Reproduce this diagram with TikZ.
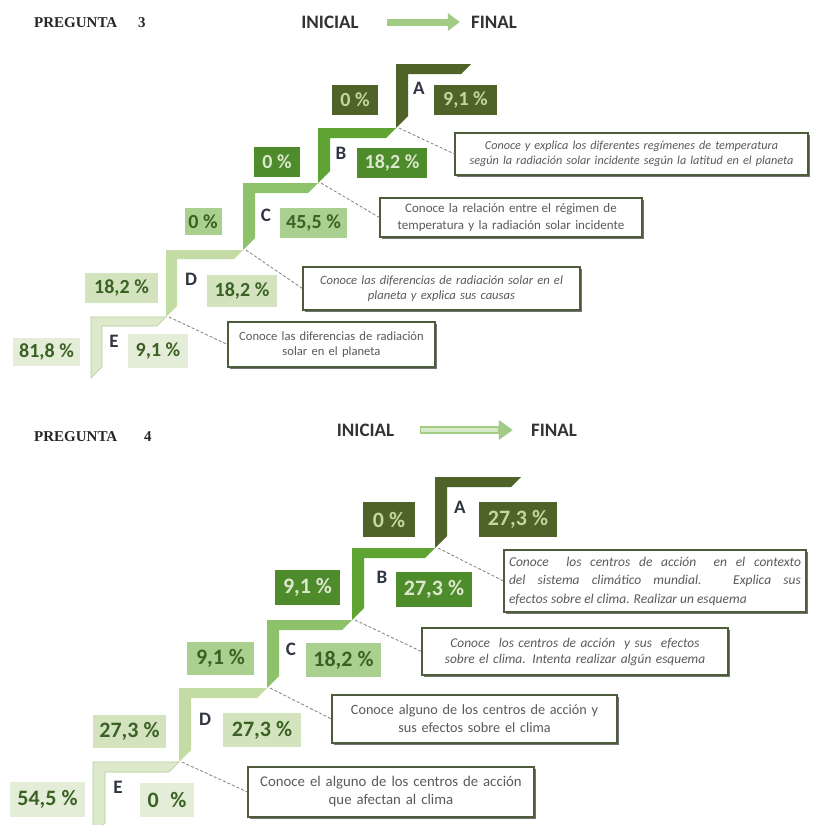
\documentclass[tikz,border=0pt]{standalone}
\usepackage{fontspec}
\setmainfont{Carlito}
\newfontfamily\serifb{Liberation Serif}
\usetikzlibrary{shadows,arrows.meta}
\definecolor{gA}{HTML}{4F6228}
\definecolor{gAt}{HTML}{C3D69B}
\definecolor{gBs}{HTML}{5FA332}
\definecolor{gB}{HTML}{4E8B2B}
\definecolor{gBt}{HTML}{DBE8CF}
\definecolor{gCs}{HTML}{8DC26A}
\definecolor{gC}{HTML}{A9D08E}
\definecolor{gDs}{HTML}{C3DCA3}
\definecolor{gD}{HTML}{D2E3BD}
\definecolor{gEs}{HTML}{DCEACB}
\definecolor{gEb}{HTML}{B3CE9B}
\definecolor{gE}{HTML}{E4EDD8}
\definecolor{gtxt}{HTML}{3B6125}
\definecolor{dtxt}{HTML}{5A5A5A}
\definecolor{dbord}{HTML}{4D5D3C}
\definecolor{arrowg}{HTML}{A2CC85}
\definecolor{arrowl}{HTML}{D6EAC8}
\definecolor{letc}{HTML}{2F3542}
% #1 style, #2 x0, #3 top y, #4 bar right x, #5 bottom y, #6 bar width, #7 bar height
\newcommand\stepshape[7]{%
  \path[#1] (#2,#5) -- (#2,#3) -- (#4,#3) -- (#4-#7,#3+#7) -- (#2+#6,#3+#7) -- (#2+#6,#5-#6) -- cycle;}
\begin{document}
\begin{tikzpicture}[x=1pt,y=-1pt,
  pct/.style={inner sep=0pt, font=\bfseries\fontsize{20}{20}\selectfont},
  pctb/.style={inner sep=0pt, font=\bfseries\fontsize{22}{22}\selectfont},
  lvA/.style={fill=gA, text=gAt},
  lvB/.style={fill=gB, text=gBt},
  lvC/.style={fill=gC, text=gtxt},
  lvD/.style={fill=gD, text=gtxt},
  lvE/.style={fill=gE, text=gtxt},
  letter/.style={inner sep=0pt, text=letc, font=\bfseries\fontsize{19}{19}\selectfont},
  head/.style={inner sep=0pt, text=black!80, font=\bfseries\fontsize{19}{19}\selectfont},
  preg/.style={inner sep=0pt, anchor=west, text=black!85, font=\serifb\bfseries\fontsize{15}{15}\selectfont},
  desc/.style={draw=dbord, line width=1.1pt, fill=white, text=dtxt, inner sep=2pt,
    drop shadow={shadow xshift=1.5pt, shadow yshift=-2pt, fill=black!55, opacity=1}},
  conn/.style={draw=black!50, line width=0.8pt, dash pattern=on 3pt off 2pt},
  stA/.style={fill=gA}, stB/.style={fill=gBs}, stC/.style={fill=gCs},
  stD/.style={fill=gDs}, stE/.style={fill=gEs, draw=gEb, line width=0.6pt},
]
\useasboundingbox (0,0) rectangle (812,825);
\fill[white] (0,0) rectangle (812,825);

% ================= PREGUNTA 3 =================
\node[preg] (p3) at (34,23) {PREGUNTA\hspace{1.4em}3};
\node[head] (ini3) at (330,22) {INICIAL};
\node[head] (fin3) at (494,22) {FINAL};
\draw[arrowg, line width=7pt, -{Triangle[length=12pt,width=17pt]}] ([xshift=28pt]ini3.east) -- ([xshift=-11pt]fin3.west);

% steps
\stepshape{stE}{91}{317}{166}{378}{11}{9}
\stepshape{stD}{166}{250}{243}{317}{11}{9}
\stepshape{stC}{243}{183}{318}{250}{12}{10}
\stepshape{stB}{318}{128}{396}{183}{12}{10}
\stepshape{stA}{396}{64}{471}{128}{12}{10}

\coordinate (jA3) at (399,128);
\coordinate (jB3) at (321,183);
\coordinate (jC3) at (246,250);
\coordinate (jD3) at (169,317);

% percent boxes
\node[pct,lvA,minimum width=46pt,minimum height=30pt] (a3l) at (355,100) {0 \%};
\node[pct,lvA,minimum width=63pt,minimum height=30pt] (a3r) at (465.5,100) {9,1 \%};
\node[letter] (la3) at (419,88) {A};
\node[pct,lvB,minimum width=46pt,minimum height=30pt] (b3l) at (277,162) {0 \%};
\node[pct,lvB,minimum width=70pt,minimum height=30pt] (b3r) at (392,163) {18,2 \%};
\node[letter] (lb3) at (341,153) {B};
\node[pct,lvC,minimum width=37pt,minimum height=27pt] (c3l) at (203,221.5) {0 \%};
\node[pct,lvC,minimum width=67pt,minimum height=30pt] (c3r) at (313.5,223) {45,5 \%};
\node[letter] (lc3) at (266,215) {C};
\node[pct,lvD,minimum width=73pt,minimum height=30pt] (d3l) at (121.5,288) {18,2 \%};
\node[pct,lvD,minimum width=70pt,minimum height=32pt] (d3r) at (242,291) {18,2 \%};
\node[letter] (ld3) at (191,279) {D};
\node[pct,lvE,minimum width=67pt,minimum height=28pt] (e3l) at (46.5,351.5) {81,8 \%};
\node[pct,lvE,minimum width=60pt,minimum height=34pt] (e3r) at (158,351) {9,1 \%};
\node[letter] (le3) at (114,341) {E};

% descriptions
\node[desc,minimum width=353pt,minimum height=42pt,text width=347pt,align=center,
  font=\itshape\fontsize{12.2}{15}\selectfont] (dA3) at (631.5,154)
  {Conoce y explica los diferentes regímenes de temperatura\\según la radiación solar incidente según la latitud en el planeta};
\node[desc,minimum width=262pt,minimum height=39pt,text width=254pt,align=center,
  font=\fontsize{13}{17}\selectfont] (dB3) at (511,217.5)
  {Conoce la relación entre el régimen de\\temperatura y la radiación solar incidente};
\node[desc,minimum width=277pt,minimum height=43pt,text width=269pt,align=center,
  font=\itshape\fontsize{12.6}{15}\selectfont] (dC3) at (441.5,288.5)
  {Conoce las diferencias de radiación solar en el\\planeta y explica sus causas};
\node[desc,minimum width=207pt,minimum height=45pt,text width=199pt,align=center,
  font=\fontsize{12.6}{15}\selectfont] (dD3) at (331.5,344.5)
  {Conoce las diferencias de radiación\\solar en el planeta};

\draw[conn] (jA3) -- (dA3.west);
\draw[conn] (jB3) -- (dB3.west);
\draw[conn] (jC3) -- (dC3.west);
\draw[conn] (jD3) -- (dD3.west);

% ================= PREGUNTA 4 =================
\node[preg] (p4) at (34,437) {PREGUNTA\hspace{1.8em}4};
\node[head] (ini4) at (365.5,430) {INICIAL};
\node[head] (fin4) at (554,430) {FINAL};
\draw[arrowg, line width=8pt, -{Triangle[length=14pt,width=19pt]}] ([xshift=26pt]ini4.east) -- ([xshift=-18pt]fin4.west);
\draw[arrowl, line width=3.5pt] ([xshift=27pt]ini4.east) -- ([xshift=-33pt]fin4.west);

\stepshape{stE}{93}{762}{179}{835}{12}{10}
\stepshape{stD}{179}{688}{267}{762}{12}{10}
\stepshape{stC}{267}{620}{352}{688}{12}{10}
\stepshape{stB}{352}{548}{435}{620}{12}{10}
\stepshape{stA}{435}{477}{521}{548}{12}{10}

\coordinate (jA4) at (438,548);
\coordinate (jB4) at (355,620);
\coordinate (jC4) at (270,688);
\coordinate (jD4) at (182,762);

\node[pctb,lvA,minimum width=52pt,minimum height=35pt] (a4l) at (389,519.5) {0 \%};
\node[pctb,lvA,minimum width=78pt,minimum height=35pt] (a4r) at (518,519.5) {27,3 \%};
\node[letter] (la4) at (460,507) {A};
\node[pctb,lvB,minimum width=65pt,minimum height=35pt] (b4l) at (307.5,587.5) {9,1 \%};
\node[pctb,lvB,minimum width=76pt,minimum height=35pt] (b4r) at (434,589.5) {27,3 \%};
\node[letter] (lb4) at (382,577) {B};
\node[pctb,lvC,minimum width=67pt,minimum height=33pt] (c4l) at (220.5,658.5) {9,1 \%};
\node[pctb,lvC,minimum width=75pt,minimum height=34pt] (c4r) at (343.5,660) {18,2 \%};
\node[letter] (lc4) at (291,649) {C};
\node[pctb,lvD,minimum width=73pt,minimum height=33pt] (d4l) at (129.5,731.5) {27,3 \%};
\node[pctb,lvD,minimum width=78pt,minimum height=34pt] (d4r) at (262,730) {27,3 \%};
\node[letter] (ld4) at (205,719) {D};
\node[pctb,lvE,minimum width=75pt,minimum height=35pt] (e4l) at (47.5,799.5) {54,5 \%};
\node[pctb,lvE,minimum width=54pt,minimum height=34pt] (e4r) at (167,800) {0\hspace{0.3em} \%};
\node[letter] (le4) at (118,787) {E};

\node[desc,minimum width=302pt,minimum height=62pt,text width=292pt,align=justify,
  font=\itshape\fontsize{13.5}{18.5}\selectfont] (dA4) at (655,581)
  {\hyphenpenalty=10000 Conoce\ \ los centros de acción\ \ en el contexto\linebreak del sistema climático mundial. Explica sus\linebreak efectos sobre el clima. Realizar un esquema};
\node[desc,minimum width=306pt,minimum height=47pt,text width=298pt,align=center,
  font=\itshape\fontsize{13.4}{16}\selectfont] (dB4) at (575,651.5)
  {Conoce\ \ los centros de acción\ \ y sus\ \ efectos\\sobre el clima. Intenta realizar algún esquema};
\node[desc,minimum width=285pt,minimum height=48pt,text width=277pt,align=center,
  font=\fontsize{14.2}{18}\selectfont] (dC4) at (474.5,719)
  {Conoce alguno de los centros de acción y\\sus efectos sobre el clima};
\node[desc,minimum width=286pt,minimum height=50pt,text width=278pt,align=center,
  font=\fontsize{14.8}{18}\selectfont] (dD4) at (391,792)
  {Conoce el alguno de los centros de acción\\que afectan al clima};

\draw[conn] (jA4) -- (dA4.west);
\draw[conn] (jB4) -- (dB4.west);
\draw[conn] (jC4) -- (dC4.west);
\draw[conn] (jD4) -- (dD4.west);
\end{tikzpicture}
\end{document}
